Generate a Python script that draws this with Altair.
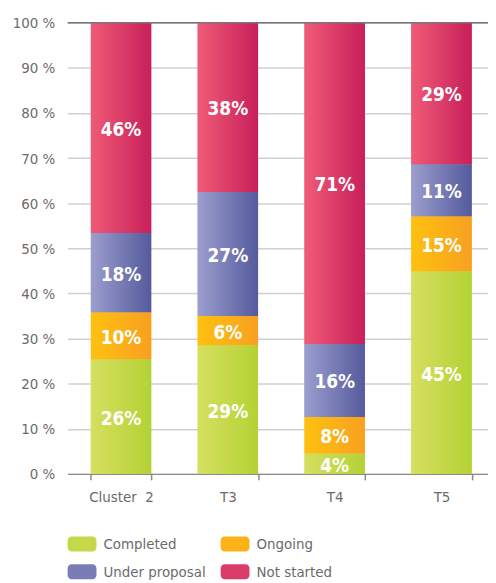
import altair as alt
import pandas as pd

categories = ["Cluster\u00a0 2", "T3", "T4", "T5"]
statuses = ["Completed", "Ongoing", "Under proposal", "Not started"]
completed = [25.4, 28.5, 4.5, 44.9]
ongoing = [10.4, 6.5, 8.1, 12.2]
under_proposal = [17.6, 27.5, 16.2, 11.5]
not_started = [46.6, 37.5, 71.2, 31.4]
labels_completed = ["26%", "29%", "4%", "45%"]
labels_ongoing = ["10%", "6%", "8%", "15%"]
labels_under_proposal = ["18%", "27%", "16%", "11%"]
labels_not_started = ["46%", "38%", "71%", "29%"]

grad_left = ["#d6df5f", "#fec10f", "#9c9ece", "#ef5b76"]
grad_right = ["#b3d235", "#f8a021", "#545a9c", "#c81f5b"]
legend_colors = ["#c4d84a", "#fbb118", "#7a7db5", "#dc3d68"]

series = [completed, ongoing, under_proposal, not_started]
labels = [labels_completed, labels_ongoing, labels_under_proposal, labels_not_started]

rows = []
for si, s in enumerate(statuses):
    for ci, c in enumerate(categories):
        rows.append({"cat": c, "status": s, "idx": si,
                     "value": series[si][ci], "label": labels[si][ci]})
df = pd.DataFrame(rows)

FONT = "DejaVu Sans Condensed"
GRAY = "#6b6b6b"


def grad(i):
    return {"gradient": "linear", "x1": 0, "y1": 0, "x2": 1, "y2": 0,
            "stops": [{"offset": 0, "color": grad_left[i]},
                      {"offset": 1, "color": grad_right[i]}]}


x_enc = alt.X("cat:N", sort=categories, title=None,
              scale=alt.Scale(paddingInner=0.435, paddingOuter=0.2175),
              axis=alt.Axis(labelAngle=0, domainColor="#8a8a8a", domainWidth=1.5,
                            tickColor="#8a8a8a", tickWidth=1.5, tickSize=6,
                            tickBand="extent", labelPadding=10, labelFontSize=15,
                            labelColor=GRAY, labelFont=FONT, grid=False))
y_enc = alt.Y("value:Q", stack="normalize", title=None,
              scale=alt.Scale(domain=[0, 1]),
              axis=alt.Axis(values=[i / 10 for i in range(11)],
                            labelExpr="round(datum.value*100) + ' %'",
                            domain=False, ticks=False, grid=True,
                            gridColor="#d0d0d0", gridWidth=1.5,
                            labelPadding=13, labelFontSize=15,
                            labelColor=GRAY, labelFont=FONT))

rr = ("M-0.724,-0.517 L0.724,-0.517 A0.276,0.276 0 0 1 1,-0.241 L1,0.241 "
      "A0.276,0.276 0 0 1 0.724,0.517 L-0.724,0.517 A0.276,0.276 0 0 1 -1,0.241 "
      "L-1,-0.241 A0.276,0.276 0 0 1 -0.724,-0.517 Z")

bars_legend = alt.Chart(df).mark_bar().encode(
    x=x_enc, y=y_enc,
    order=alt.Order("idx:Q", sort="ascending"),
    color=alt.Color("status:N", sort=statuses,
                    scale=alt.Scale(domain=statuses, range=legend_colors),
                    legend=alt.Legend(title=None, orient="bottom", columns=2,
                                      direction="horizontal", gridAlign="none",
                                      symbolType=rr, symbolSize=841,
                                      symbolStrokeWidth=0, symbolOpacity=1,
                                      labelFont=FONT, labelFontSize=15,
                                      labelColor=GRAY, labelOffset=7,
                                      rowPadding=5, columnPadding=14,
                                      offset=25, padding=0)),
)

fill_def = {
    "condition": [
        {"test": f"datum.status === '{statuses[i]}'", "value": grad(i)}
        for i in range(3)
    ],
    "value": grad(3),
}

bars_grad = alt.Chart(df).mark_bar().encode(
    x=alt.X("cat:N", sort=categories),
    y=alt.Y("value:Q", stack="normalize"),
    order=alt.Order("idx:Q", sort="ascending"),
    detail="status:N",
    fill=fill_def,
)

text = alt.Chart(df).transform_stack(
    stack="value", as_=["y0", "y1"], groupby=["cat"],
    sort=[alt.SortField("idx", order="ascending")], offset="normalize"
).transform_calculate(
    mid="(datum.y0 + datum.y1) / 2"
).mark_text(font=FONT, fontWeight="bold", fontSize=19, color="white",
            baseline="middle", dy=2).encode(
    x=alt.X("cat:N", sort=categories),
    y=alt.Y("mid:Q"),
    text="label:N",
)

top_rule = alt.Chart(pd.DataFrame({"v": [1.0]})).mark_rule(
    color="#777777", strokeWidth=1.5).encode(y="v:Q")

chart = alt.layer(bars_legend, bars_grad, text, top_rule).properties(
    width=430, height=454,
    padding={"left": 4, "top": 6, "right": -8, "bottom": 0}
).configure_view(stroke=None)

chart.save("out.html", embed_options={"renderer": "svg", "actions": False})
